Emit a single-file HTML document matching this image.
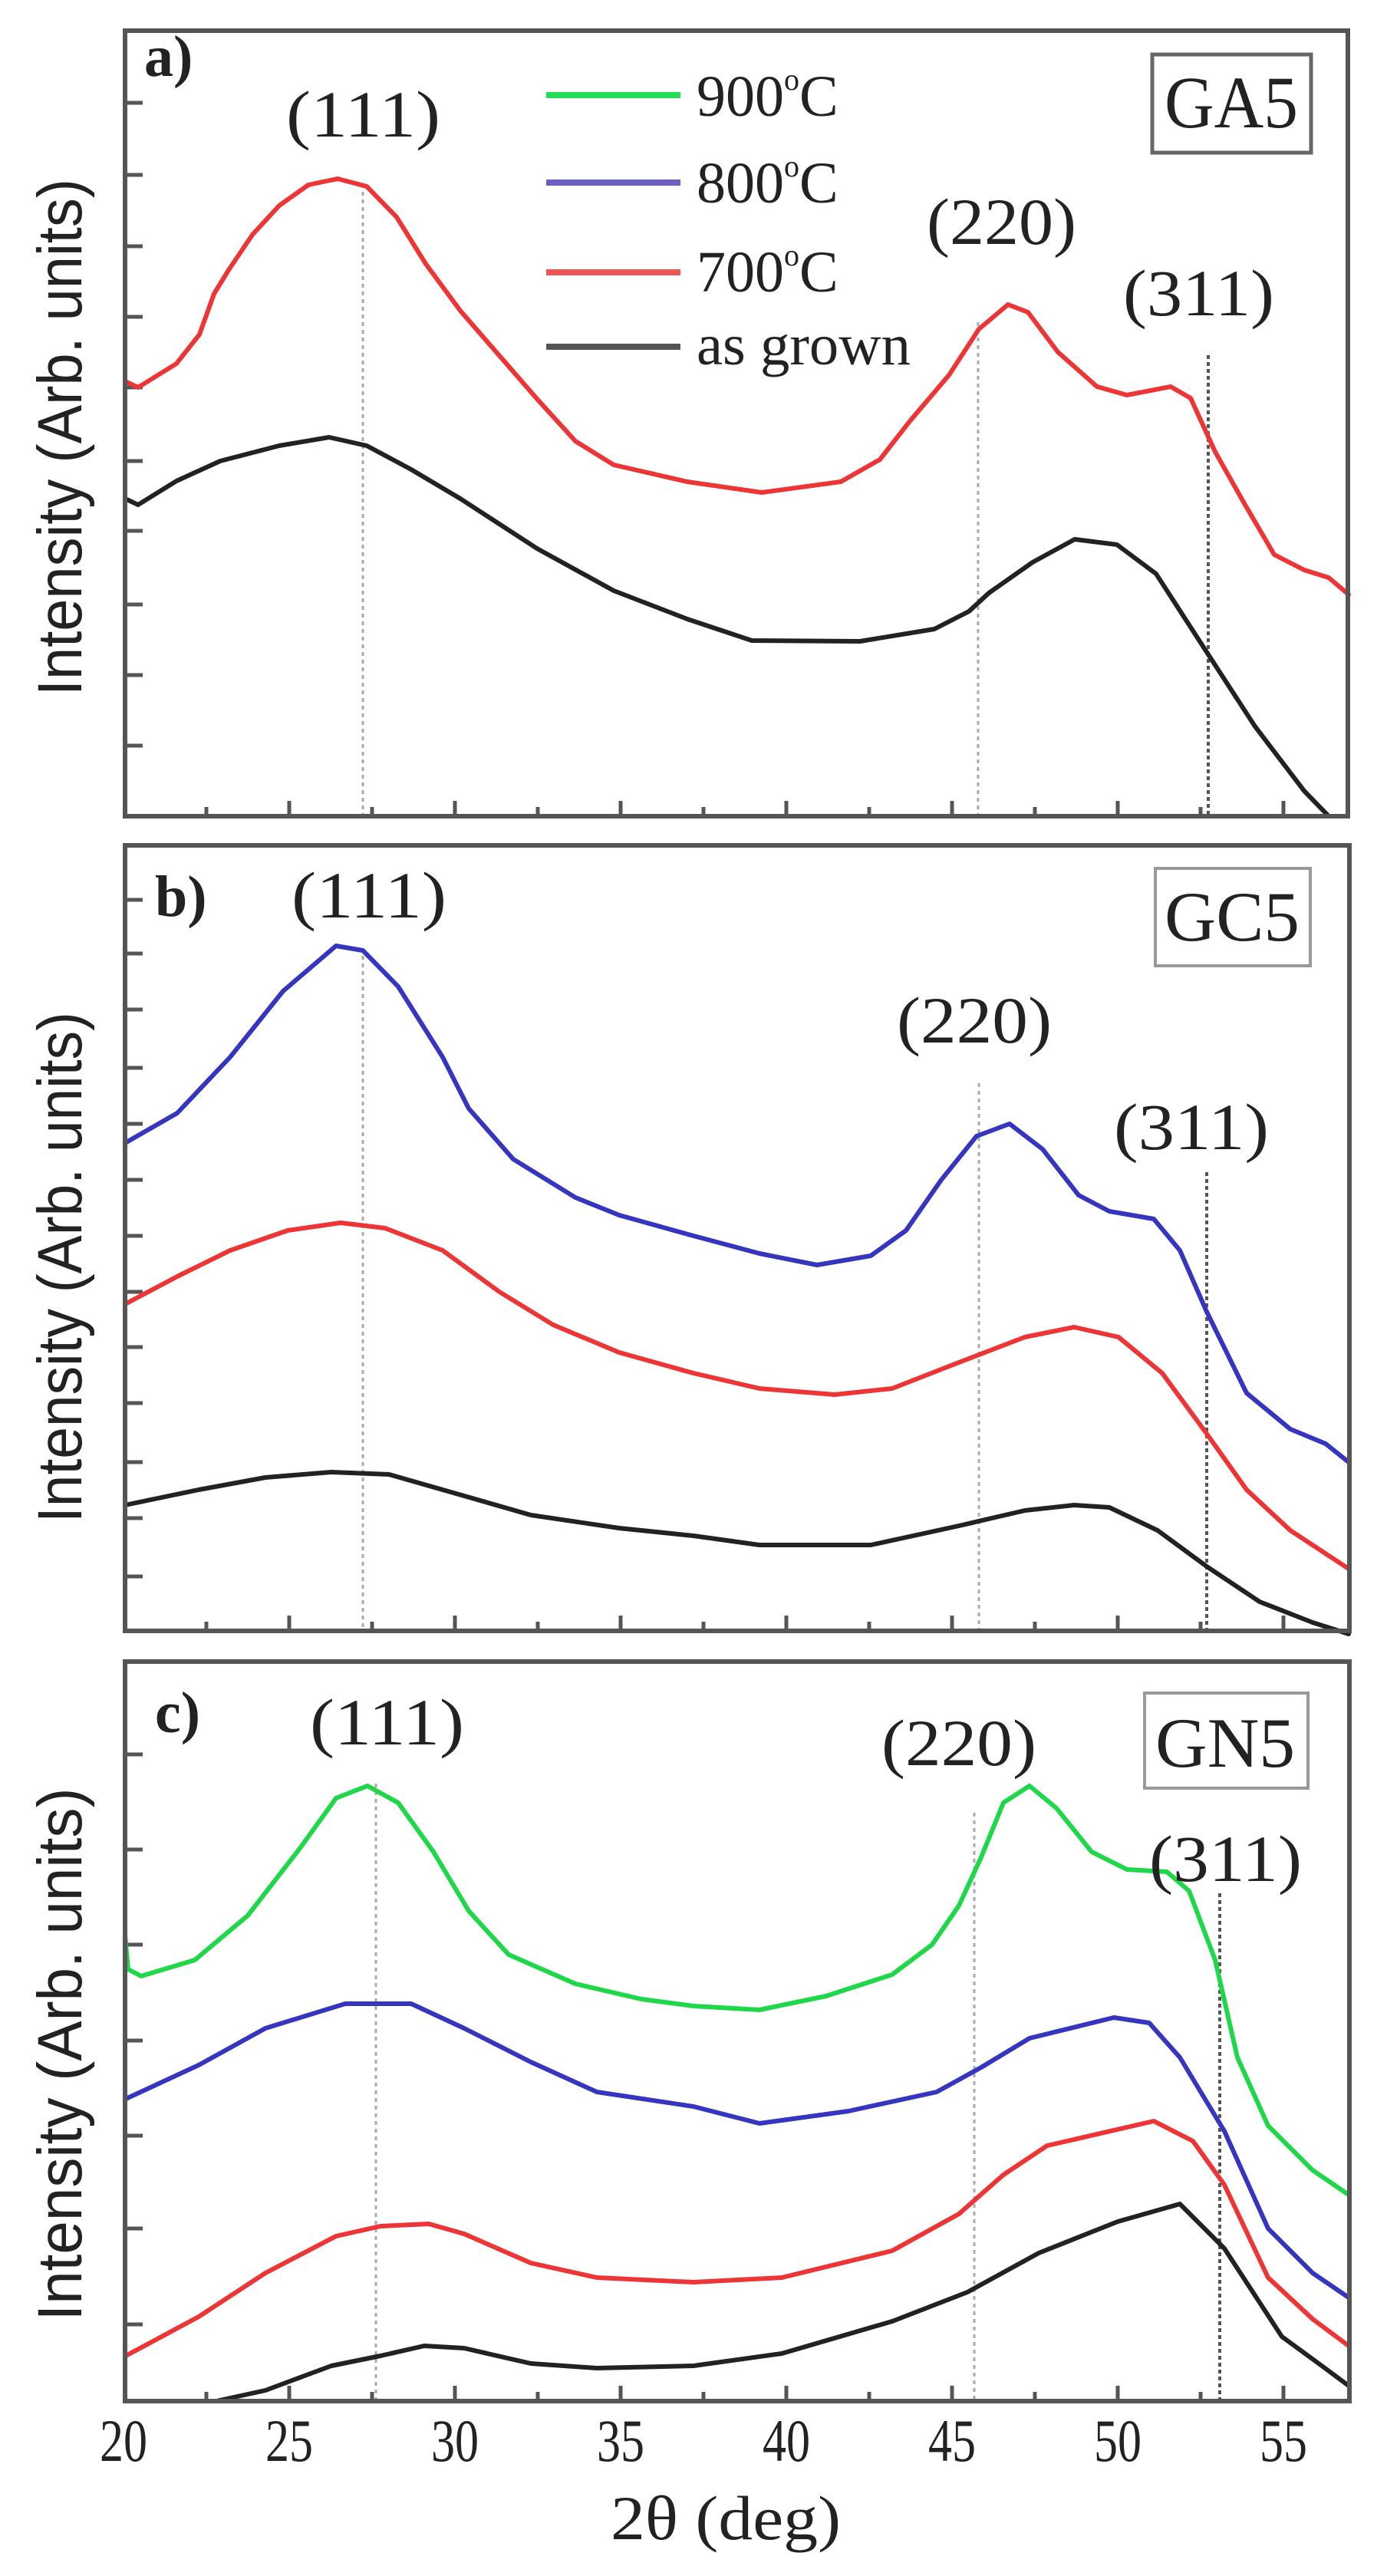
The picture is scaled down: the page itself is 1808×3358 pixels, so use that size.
<!DOCTYPE html>
<html><head><meta charset="utf-8"><style>
html,body{margin:0;padding:0;background:#fff;}
svg{display:block;}
.ser{font-family:"Liberation Serif",serif;fill:#222;}
.san{font-family:"Liberation Sans",sans-serif;fill:#222;}
.c{fill:none;stroke-width:6;stroke-linejoin:round;stroke-linecap:round;}
.fr{fill:none;stroke:#555;stroke-width:6;}
.tk{stroke:#555;stroke-width:5;}
.dt{stroke:#aaa;stroke-width:3;stroke-dasharray:5 5;}
.dd{stroke:#555;stroke-width:4;stroke-dasharray:5 4;}
</style></head><body>
<svg width="1808" height="3358" viewBox="0 0 1808 3358" xmlns="http://www.w3.org/2000/svg">
<rect width="1808" height="3358" fill="#fff"/>

<!-- ============ PANEL A ============ -->
<line class="dt" x1="473" y1="240" x2="473" y2="1064"/>
<line class="dt" x1="1275" y1="420" x2="1275" y2="1064"/>
<line class="dd" x1="1575" y1="463" x2="1575" y2="1064"/>
<g class="tk">
<line x1="163" y1="134" x2="186" y2="134"/><line x1="163" y1="228" x2="186" y2="228"/><line x1="163" y1="321" x2="186" y2="321"/><line x1="163" y1="413" x2="186" y2="413"/><line x1="163" y1="505" x2="186" y2="505"/><line x1="163" y1="601" x2="186" y2="601"/><line x1="163" y1="692" x2="186" y2="692"/><line x1="163" y1="788" x2="186" y2="788"/><line x1="163" y1="880" x2="186" y2="880"/><line x1="163" y1="972" x2="186" y2="972"/>
</g>
<polyline class="c" stroke="#ee3535" points="163,497 180,505 230,474 260,436 279,383 298,352 329,306 364,268 402,241 440,233 478,243 517,283 555,344 600,405 700,520 750,575 800,606 896,628 993,642 1096,628 1147,599 1186,549 1237,489 1276,429 1314,397 1340,407 1379,459 1430,504 1469,515 1526,504 1552,519 1584,589 1623,658 1661,723 1700,743 1732,753 1758,775"/>
<polyline class="c" stroke="#222" points="163,650 180,658 230,627 287,601 364,581 429,570 478,581 536,612 600,650 700,715 800,770 896,807 980,835 1121,836 1218,820 1263,797 1289,773 1346,733 1401,703 1456,710 1507,748 1571,847 1636,947 1700,1031 1732,1064"/>
<rect class="fr" x="163" y="40" width="1594" height="1024"/>
<text class="ser" x="188" y="99" font-size="76" font-weight="bold">a)</text>
<text class="ser" x="373" y="178" font-size="86" textLength="201" lengthAdjust="spacingAndGlyphs">(111)</text>
<text class="ser" x="1208" y="318" font-size="86" textLength="195" lengthAdjust="spacingAndGlyphs">(220)</text>
<text class="ser" x="1464" y="411" font-size="86" textLength="197" lengthAdjust="spacingAndGlyphs">(311)</text>
<rect x="1502" y="71" width="207" height="128" fill="none" stroke="#666" stroke-width="5"/>
<text class="ser" x="1518" y="166" font-size="96" textLength="174" lengthAdjust="spacingAndGlyphs">GA5</text>
<!-- legend -->
<line x1="712" y1="124" x2="887" y2="124" stroke="#22dd55" stroke-width="8"/>
<line x1="712" y1="238" x2="887" y2="238" stroke="#6a5fc0" stroke-width="8"/>
<line x1="712" y1="355" x2="887" y2="355" stroke="#f05555" stroke-width="8"/>
<line x1="712" y1="452" x2="887" y2="452" stroke="#555" stroke-width="8"/>
<text class="ser" x="908" y="151" font-size="76">900<tspan font-size="40" dy="-34">o</tspan><tspan dy="34">C</tspan></text>
<text class="ser" x="908" y="264" font-size="76">800<tspan font-size="40" dy="-34">o</tspan><tspan dy="34">C</tspan></text>
<text class="ser" x="908" y="380" font-size="76">700<tspan font-size="40" dy="-34">o</tspan><tspan dy="34">C</tspan></text>
<text class="ser" x="908" y="475" font-size="76" textLength="279" lengthAdjust="spacingAndGlyphs">as grown</text>
<text class="san" transform="translate(106,570) rotate(-90)" text-anchor="middle" font-size="82" textLength="674" lengthAdjust="spacingAndGlyphs">Intensity (Arb. units)</text>

<!-- ============ PANEL B ============ -->
<line class="dt" x1="473" y1="1246" x2="473" y2="2126"/>
<line class="dt" x1="1276" y1="1412" x2="1276" y2="2126"/>
<line class="dd" x1="1573" y1="1528" x2="1573" y2="2126"/>
<g class="tk">
<line x1="163" y1="1173" x2="186" y2="1173"/><line x1="163" y1="1243" x2="186" y2="1243"/><line x1="163" y1="1316" x2="186" y2="1316"/><line x1="163" y1="1392" x2="186" y2="1392"/><line x1="163" y1="1465" x2="186" y2="1465"/><line x1="163" y1="1538" x2="186" y2="1538"/><line x1="163" y1="1611" x2="186" y2="1611"/><line x1="163" y1="1684" x2="186" y2="1684"/><line x1="163" y1="1756" x2="186" y2="1756"/><line x1="163" y1="1829" x2="186" y2="1829"/><line x1="163" y1="1906" x2="186" y2="1906"/><line x1="163" y1="1979" x2="186" y2="1979"/><line x1="163" y1="2055" x2="186" y2="2055"/>
</g>
<polyline class="c" stroke="#3535c0" points="163,1490 231,1451 300,1378 369,1292 438,1233 473,1239 519,1286 577,1378 611,1445 669,1511 750,1561 807,1584 904,1611 990,1634 1065,1649 1135,1637 1181,1604 1227,1538 1273,1481 1316,1465 1359,1498 1406,1558 1446,1579 1504,1589 1538,1630 1573,1710 1625,1816 1682,1863 1728,1882 1758,1906"/>
<polyline class="c" stroke="#ee3535" points="163,1700 231,1664 300,1630 375,1604 444,1594 502,1601 577,1630 651,1684 721,1727 807,1763 904,1790 990,1810 1088,1818 1163,1810 1250,1776 1336,1743 1400,1730 1458,1743 1515,1790 1573,1869 1625,1942 1682,1995 1758,2045"/>
<polyline class="c" stroke="#222" points="163,1962 259,1942 346,1926 432,1919 507,1922 577,1942 692,1975 807,1992 904,2002 990,2014 1135,2014 1250,1989 1336,1969 1400,1962 1446,1965 1509,1995 1573,2042 1642,2088 1711,2115 1758,2130"/>
<rect class="fr" x="163" y="1102" width="1596" height="1024"/>
<text class="ser" x="202" y="1194" font-size="76" font-weight="bold">b)</text>
<text class="ser" x="380" y="1196" font-size="86" textLength="202" lengthAdjust="spacingAndGlyphs">(111)</text>
<text class="ser" x="1169" y="1359" font-size="86" textLength="202" lengthAdjust="spacingAndGlyphs">(220)</text>
<text class="ser" x="1452" y="1498" font-size="86" textLength="202" lengthAdjust="spacingAndGlyphs">(311)</text>
<rect x="1506" y="1132" width="202" height="127" fill="none" stroke="#999" stroke-width="4"/>
<text class="ser" x="1518" y="1226" font-size="92" textLength="176" lengthAdjust="spacingAndGlyphs">GC5</text>
<text class="san" transform="translate(106,1652) rotate(-90)" text-anchor="middle" font-size="82" textLength="666" lengthAdjust="spacingAndGlyphs">Intensity (Arb. units)</text>

<!-- ============ PANEL C ============ -->
<line class="dt" x1="490" y1="2325" x2="490" y2="3130"/>
<line class="dt" x1="1270" y1="2363" x2="1270" y2="3130"/>
<line class="dd" x1="1590" y1="2468" x2="1590" y2="3130"/>
<g class="tk">
<line x1="163" y1="2287" x2="186" y2="2287"/><line x1="163" y1="2411" x2="186" y2="2411"/><line x1="163" y1="2535" x2="186" y2="2535"/><line x1="163" y1="2660" x2="186" y2="2660"/><line x1="163" y1="2784" x2="186" y2="2784"/><line x1="163" y1="2905" x2="186" y2="2905"/><line x1="163" y1="3030" x2="186" y2="3030"/>
</g>
<polyline class="c" stroke="#1ed84a" points="163,2523 167,2567 184,2576 254,2555 323,2497 392,2408 438,2344 479,2328 519,2350 565,2414 611,2491 663,2548 750,2586 836,2606 904,2615 990,2620 1077,2602 1163,2574 1215,2535 1250,2484 1279,2421 1308,2350 1342,2328 1377,2357 1423,2414 1469,2437 1521,2440 1550,2465 1584,2555 1613,2682 1653,2771 1711,2829 1758,2861"/>
<polyline class="c" stroke="#3535c0" points="164,2736 259,2692 346,2644 450,2612 536,2612 605,2644 692,2688 778,2727 904,2746 990,2768 1106,2752 1221,2727 1279,2695 1342,2657 1452,2630 1498,2637 1538,2682 1596,2778 1653,2905 1711,2963 1758,2995"/>
<polyline class="c" stroke="#ee3535" points="164,3071 259,3020 346,2963 438,2915 496,2902 559,2899 605,2912 692,2950 778,2969 904,2975 1019,2969 1163,2934 1250,2886 1308,2835 1365,2797 1504,2765 1555,2791 1596,2848 1653,2969 1711,3023 1758,3058"/>
<polyline class="c" stroke="#222" points="282,3130 346,3116 432,3084 496,3071 553,3058 605,3061 692,3081 778,3087 904,3084 1019,3068 1163,3026 1261,2988 1354,2937 1457,2896 1538,2873 1596,2931 1671,3046 1723,3084 1758,3110"/>
<rect class="fr" x="163" y="2166" width="1596" height="964"/>
<text class="ser" x="202" y="2258" font-size="76" font-weight="bold">c)</text>
<text class="ser" x="404" y="2274" font-size="86" textLength="201" lengthAdjust="spacingAndGlyphs">(111)</text>
<text class="ser" x="1149" y="2301" font-size="86" textLength="202" lengthAdjust="spacingAndGlyphs">(220)</text>
<text class="ser" x="1498" y="2452" font-size="86" textLength="199" lengthAdjust="spacingAndGlyphs">(311)</text>
<rect x="1492" y="2207" width="213" height="124" fill="none" stroke="#999" stroke-width="4"/>
<text class="ser" x="1506" y="2303" font-size="92" textLength="182" lengthAdjust="spacingAndGlyphs">GN5</text>
<text class="san" transform="translate(106,2678) rotate(-90)" text-anchor="middle" font-size="82" textLength="695" lengthAdjust="spacingAndGlyphs">Intensity (Arb. units)</text>

<!-- x ticks for all panels -->
<g class="tk">
<line x1="269" y1="1064" x2="269" y2="1052"/><line x1="377" y1="1064" x2="377" y2="1044"/><line x1="485" y1="1064" x2="485" y2="1052"/><line x1="593" y1="1064" x2="593" y2="1044"/><line x1="701" y1="1064" x2="701" y2="1052"/><line x1="809" y1="1064" x2="809" y2="1044"/><line x1="917" y1="1064" x2="917" y2="1052"/><line x1="1025" y1="1064" x2="1025" y2="1044"/><line x1="1133" y1="1064" x2="1133" y2="1052"/><line x1="1241" y1="1064" x2="1241" y2="1044"/><line x1="1349" y1="1064" x2="1349" y2="1052"/><line x1="1457" y1="1064" x2="1457" y2="1044"/><line x1="1565" y1="1064" x2="1565" y2="1052"/><line x1="1673" y1="1064" x2="1673" y2="1044"/>
<line x1="269" y1="2126" x2="269" y2="2114"/><line x1="377" y1="2126" x2="377" y2="2106"/><line x1="485" y1="2126" x2="485" y2="2114"/><line x1="593" y1="2126" x2="593" y2="2106"/><line x1="701" y1="2126" x2="701" y2="2114"/><line x1="809" y1="2126" x2="809" y2="2106"/><line x1="917" y1="2126" x2="917" y2="2114"/><line x1="1025" y1="2126" x2="1025" y2="2106"/><line x1="1133" y1="2126" x2="1133" y2="2114"/><line x1="1241" y1="2126" x2="1241" y2="2106"/><line x1="1349" y1="2126" x2="1349" y2="2114"/><line x1="1457" y1="2126" x2="1457" y2="2106"/><line x1="1565" y1="2126" x2="1565" y2="2114"/><line x1="1673" y1="2126" x2="1673" y2="2106"/>
<line x1="269" y1="3130" x2="269" y2="3118"/><line x1="377" y1="3130" x2="377" y2="3110"/><line x1="485" y1="3130" x2="485" y2="3118"/><line x1="593" y1="3130" x2="593" y2="3110"/><line x1="701" y1="3130" x2="701" y2="3118"/><line x1="809" y1="3130" x2="809" y2="3110"/><line x1="917" y1="3130" x2="917" y2="3118"/><line x1="1025" y1="3130" x2="1025" y2="3110"/><line x1="1133" y1="3130" x2="1133" y2="3118"/><line x1="1241" y1="3130" x2="1241" y2="3110"/><line x1="1349" y1="3130" x2="1349" y2="3118"/><line x1="1457" y1="3130" x2="1457" y2="3110"/><line x1="1565" y1="3130" x2="1565" y2="3118"/><line x1="1673" y1="3130" x2="1673" y2="3110"/>
</g>

<!-- x tick labels -->
<g class="ser" font-size="78" text-anchor="middle">
<text x="161" y="3208" textLength="62" lengthAdjust="spacingAndGlyphs">20</text>
<text x="377" y="3208" textLength="62" lengthAdjust="spacingAndGlyphs">25</text>
<text x="593" y="3208" textLength="62" lengthAdjust="spacingAndGlyphs">30</text>
<text x="809" y="3208" textLength="62" lengthAdjust="spacingAndGlyphs">35</text>
<text x="1025" y="3208" textLength="62" lengthAdjust="spacingAndGlyphs">40</text>
<text x="1241" y="3208" textLength="62" lengthAdjust="spacingAndGlyphs">45</text>
<text x="1457" y="3208" textLength="62" lengthAdjust="spacingAndGlyphs">50</text>
<text x="1673" y="3208" textLength="62" lengthAdjust="spacingAndGlyphs">55</text>
</g>
<text class="ser" x="946" y="3310" font-size="82" text-anchor="middle" textLength="300" lengthAdjust="spacingAndGlyphs">2θ (deg)</text>
</svg>
</body></html>
